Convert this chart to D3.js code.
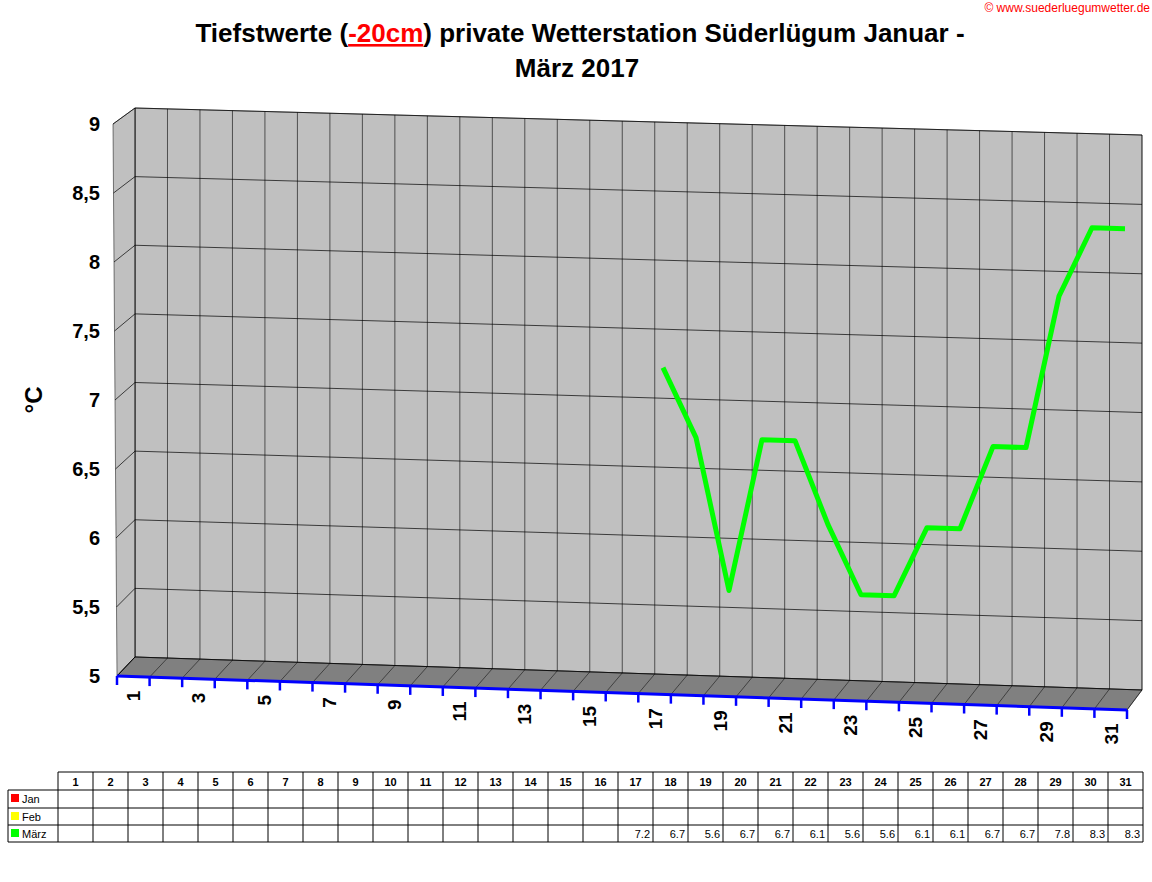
<!DOCTYPE html><html><head><meta charset="utf-8"><script src="https://cdn.jsdelivr.net/npm/d3@7"></script>
<style>body{margin:0;background:#fff}svg{font-family:Arial,"Liberation Sans",sans-serif}</style></head><body><svg id="c" width="1152" height="882"></svg><script>
const days = d3.range(1,32);
const yTicks = [5,5.5,6,6.5,7,7.5,8,8.5,9];
const yTickLabels = ["5","5,5","6","6,5","7","7,5","8","8,5","9"];
const months = ["Jan","Feb","März"];
const monthColors = ["#ff0000","#ffff00","#00ff00"];
const maerzDays = [17,18,19,20,21,22,23,24,25,26,27,28,29,30,31];
const maerzVals = [7.2,6.7,5.6,6.7,6.7,6.1,5.6,5.6,6.1,6.1,6.7,6.7,7.8,8.3,8.3];

const svg = d3.select("#c");
// geometry
const BL={x:135}, BR={x:1142};
const xBack = d3.scaleLinear().domain([0.5,31.5]).range([135,1142]);
const xFront = d3.scaleLinear().domain([0.5,31.5]).range([117,1127]);
const yBackL = d3.scaleLinear().domain([5,9]).range([657,108]);
const yBackR = d3.scaleLinear().domain([5,9]).range([690,135]);
const yFront = d3.scaleLinear().domain([5,9]).range([676,124]);
const t = x => (x-135)/(1142-135);
const yB = (v,x)=> yBackL(v)+(yBackR(v)-yBackL(v))*t(x);
const fy5 = x => 676 + (710-676)*(x-117)/(1127-117);

// back wall
svg.append("polygon").attr("points",[[135,yBackL(9)],[1142,yBackR(9)],[1142,yBackR(5)],[135,yBackL(5)]].join(" ")).attr("fill","#c0c0c0").attr("stroke","#000").attr("stroke-width",0.5);
// left wall
svg.append("polygon").attr("points",[[113,yFront(9)],[135,yBackL(9)],[135,yBackL(5)],[117,676]].join(" ")).attr("fill","#c0c0c0").attr("stroke","#000").attr("stroke-width",0.5);
// floor
svg.append("polygon").attr("points",[[117,676],[135,yBackL(5)],[1142,yBackR(5)],[1127,710]].join(" ")).attr("fill","#808080").attr("stroke","#000").attr("stroke-width",0.5);
// grid
yTicks.forEach(v=>{
  svg.append("line").attr("x1",135).attr("y1",yBackL(v)).attr("x2",1142).attr("y2",yBackR(v)).attr("stroke","#000").attr("stroke-width",0.7);
  svg.append("line").attr("x1",113+4*(v-9)/-4*0+ (117-113)*(9-v)/4).attr("y1",yFront(v)).attr("x2",135).attr("y2",yBackL(v)).attr("stroke","#000").attr("stroke-width",0.7);
});
d3.range(0,32).forEach(i=>{
  const xb = xBack(i+0.5), xf = xFront(i+0.5);
  svg.append("line").attr("x1",xb).attr("y1",yB(9,xb)).attr("x2",xb).attr("y2",yB(5,xb)).attr("stroke","#000").attr("stroke-width",0.6);
  svg.append("line").attr("x1",xb).attr("y1",yB(5,xb)).attr("x2",xf).attr("y2",fy5(xf)).attr("stroke","#000").attr("stroke-width",0.5);
});
// front axis
svg.append("line").attr("x1",117).attr("y1",676).attr("x2",1127).attr("y2",710).attr("stroke","#0000ff").attr("stroke-width",3);
d3.range(0,32).forEach(i=>{const xf=xFront(i+0.5);
  svg.append("line").attr("x1",xf).attr("y1",fy5(xf)).attr("x2",xf).attr("y2",fy5(xf)+9).attr("stroke","#0000ff").attr("stroke-width",2.5);});
days.filter(d=>d%2===1).forEach(d=>{const xf=xFront(d);
  svg.append("text").attr("transform",`translate(${xf+7},${fy5(xf)+14}) rotate(-90)`).attr("text-anchor","end").attr("font-size",19).attr("font-weight","bold").text(d);});
// y labels
yTicks.forEach((v,i)=>svg.append("text").attr("x",100).attr("y",yFront(v)+7).attr("text-anchor","end").attr("font-size",20).attr("font-weight","bold").text(yTickLabels[i]));
svg.append("text").attr("transform","translate(42,400) rotate(-90)").attr("text-anchor","middle").attr("font-size",24).attr("font-weight","bold").text("°C");
// line
const lx = d3.scaleLinear().domain([1,31]).range([135,1125]);
const line = d3.line().x(d=>lx(d[0])).y(d=>yB(d[1],lx(d[0]))-3);
svg.append("path").datum(maerzDays.map((d,i)=>[d,maerzVals[i]])).attr("d",line).attr("fill","none").attr("stroke","#00ff00").attr("stroke-width",5).attr("stroke-linejoin","round");
// title
const t1=svg.append("text").attr("x",580).attr("y",42).attr("text-anchor","middle").attr("font-size",26).attr("font-weight","bold");
t1.append("tspan").text("Tiefstwerte (");
t1.append("tspan").attr("fill","#ff0000").attr("text-decoration","underline").text("-20cm");
t1.append("tspan").text(") private Wetterstation Süderlügum Januar -");
svg.append("text").attr("x",577).attr("y",77).attr("text-anchor","middle").attr("font-size",26).attr("font-weight","bold").text("März 2017");
svg.append("text").attr("x",1150).attr("y",12).attr("text-anchor","end").attr("font-size",12).attr("fill","#ff0000").text("© www.suederluegumwetter.de");
// table
const cx = d3.scaleLinear().domain([0,31]).range([58,1143]);
const rowY=[772,790,808,825,842];
const tg=svg.append("g").attr("stroke","#000").attr("stroke-width",1);
tg.append("line").attr("x1",58).attr("y1",772).attr("x2",1143).attr("y2",772);
rowY.slice(1).forEach(y=>tg.append("line").attr("x1",8).attr("y1",y).attr("x2",1143).attr("y2",y));
tg.append("line").attr("x1",8).attr("y1",790).attr("x2",8).attr("y2",842);
d3.range(0,32).forEach(i=>tg.append("line").attr("x1",cx(i)).attr("y1",772).attr("x2",cx(i)).attr("y2",842));
days.forEach(d=>svg.append("text").attr("x",cx(d-0.5)).attr("y",786).attr("text-anchor","middle").attr("font-size",11).attr("font-weight","bold").text(d));
months.forEach((m,i)=>{
  svg.append("rect").attr("x",11).attr("y",rowY[i+1]+4).attr("width",8).attr("height",8).attr("fill",monthColors[i]);
  svg.append("text").attr("x",22).attr("y",rowY[i+1]+13).attr("font-size",11).text(m);
});
maerzDays.forEach((d,i)=>svg.append("text").attr("x",cx(d)-3).attr("y",838).attr("text-anchor","end").attr("font-size",11).text(maerzVals[i].toFixed(1)));
</script></body></html>
